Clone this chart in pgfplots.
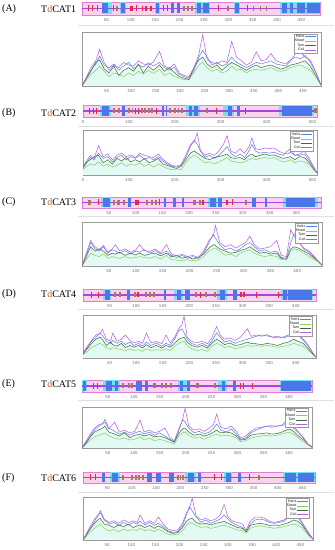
\documentclass[border=0pt]{standalone}
\usepackage{fontspec}
\setmainfont{Liberation Serif}
\newfontfamily\tickfamily{DejaVu Sans}
\usepackage{pgfplots}
\usepackage{pgfplotstable}
\pgfplotsset{compat=1.18}
\definecolor{pinkbg}{HTML}{F9D2EE}
\definecolor{orchidc}{HTML}{E07ED0}
\definecolor{cyanc}{HTML}{6FE3F2}
\definecolor{bluec}{HTML}{4A78E8}
\definecolor{brownc}{HTML}{A67A5B}
\definecolor{redc}{HTML}{E8283C}
\definecolor{centc}{HTML}{A548E0}
\definecolor{helixc}{HTML}{4F7FE0}
\definecolor{sheetc}{HTML}{8FCB5A}
\definecolor{turnc}{HTML}{3D6B35}
\definecolor{coilc}{HTML}{B65AE6}
\definecolor{fillc}{HTML}{E2F9F4}
\definecolor{framegray}{HTML}{9A9A9A}
\definecolor{tickgray}{HTML}{707070}
\definecolor{tdcol}{HTML}{C0602A}
\newcommand{\tickfont}{\tickfamily\fontsize{4}{4.5}\selectfont}

\pgfplotstableread{
x h s t c
0 0.00 0.00 0.00 0.00
8 0.12 0.10 0.14 0.15
18 0.30 0.22 0.28 0.35
28 0.42 0.30 0.45 0.48
36 0.57 0.38 0.50 0.70
45 0.40 0.28 0.33 0.45
55 0.35 0.18 0.25 0.30
65 0.42 0.25 0.38 0.40
75 0.30 0.22 0.20 0.35
85 0.38 0.18 0.30 0.45
95 0.45 0.25 0.35 0.40
105 0.33 0.20 0.28 0.38
115 0.40 0.28 0.42 0.48
125 0.36 0.22 0.25 0.42
135 0.44 0.30 0.38 0.40
145 0.38 0.24 0.30 0.45
158 0.45 0.32 0.40 0.66
168 0.35 0.20 0.28 0.38
178 0.30 0.25 0.35 0.34
188 0.36 0.18 0.26 0.42
198 0.22 0.15 0.18 0.25
208 0.18 0.12 0.15 0.20
218 0.15 0.14 0.12 0.18
228 0.30 0.25 0.35 0.35
238 0.55 0.40 0.50 0.60
246 0.68 0.45 0.55 0.98
255 0.55 0.35 0.42 0.50
265 0.40 0.28 0.35 0.45
275 0.45 0.32 0.40 0.42
285 0.38 0.25 0.30 0.48
295 0.42 0.28 0.38 0.45
305 0.55 0.38 0.45 0.85
315 0.45 0.30 0.40 0.55
325 0.40 0.32 0.35 0.48
335 0.35 0.25 0.30 0.40
345 0.40 0.30 0.36 0.45
355 0.45 0.32 0.40 0.65
365 0.42 0.30 0.35 0.48
375 0.45 0.32 0.38 0.50
385 0.48 0.35 0.40 0.62
395 0.42 0.30 0.36 0.48
405 0.40 0.28 0.32 0.45
415 0.38 0.30 0.35 0.42
425 0.48 0.35 0.40 0.50
435 0.62 0.38 0.42 0.55
445 0.65 0.40 0.45 0.52
455 0.55 0.35 0.48 0.58
465 0.50 0.30 0.38 0.45
475 0.30 0.20 0.22 0.28
487 0.02 0.02 0.02 0.02
}\tabA

\pgfplotstableread{
x h s t c
0 0.15 0.12 0.18 0.20
8 0.28 0.20 0.30 0.32
16 0.40 0.25 0.35 0.45
24 0.35 0.22 0.42 0.38
34 0.50 0.30 0.45 0.67
44 0.38 0.20 0.28 0.42
54 0.42 0.25 0.35 0.48
64 0.30 0.18 0.25 0.35
74 0.40 0.22 0.38 0.45
84 0.45 0.28 0.32 0.50
94 0.35 0.20 0.40 0.42
104 0.42 0.25 0.30 0.46
114 0.38 0.22 0.35 0.40
124 0.45 0.28 0.30 0.50
134 0.36 0.20 0.38 0.45
144 0.40 0.25 0.28 0.42
154 0.35 0.18 0.32 0.40
164 0.42 0.25 0.38 0.48
174 0.32 0.20 0.25 0.36
184 0.25 0.15 0.22 0.28
194 0.20 0.12 0.18 0.22
204 0.18 0.14 0.15 0.20
214 0.22 0.12 0.20 0.24
224 0.40 0.28 0.35 0.45
234 0.65 0.40 0.50 0.70
242 0.80 0.45 0.55 0.75
249 0.70 0.42 0.50 0.96
256 0.55 0.35 0.45 0.55
266 0.40 0.28 0.38 0.45
276 0.45 0.30 0.35 0.50
286 0.38 0.25 0.40 0.45
296 0.45 0.30 0.42 0.55
306 0.55 0.35 0.45 0.70
314 0.65 0.40 0.48 0.90
322 0.50 0.32 0.40 0.55
332 0.42 0.30 0.38 0.50
342 0.48 0.28 0.40 0.60
352 0.40 0.30 0.35 0.50
362 0.55 0.35 0.45 0.65
368 0.70 0.38 0.48 0.85
376 0.55 0.35 0.42 0.60
386 0.50 0.38 0.45 0.58
396 0.52 0.40 0.48 0.62
406 0.50 0.38 0.45 0.60
416 0.52 0.40 0.46 0.62
426 0.48 0.35 0.42 0.55
436 0.45 0.30 0.38 0.50
446 0.55 0.32 0.40 0.48
452 0.60 0.35 0.42 0.52
462 0.45 0.28 0.35 0.45
472 0.48 0.32 0.42 0.45
482 0.55 0.30 0.40 0.48
492 0.40 0.25 0.30 0.35
502 0.20 0.12 0.15 0.18
510 0.05 0.04 0.05 0.05
}\tabB

\pgfplotstableread{
x h s t c
0 0.00 0.00 0.00 0.00
8 0.25 0.15 0.22 0.30
16 0.55 0.30 0.45 0.60
24 0.40 0.25 0.35 0.45
32 0.35 0.22 0.40 0.38
40 0.45 0.28 0.35 0.48
48 0.30 0.18 0.25 0.32
56 0.38 0.22 0.30 0.40
62 0.35 0.20 0.28 0.50
70 0.30 0.18 0.32 0.35
80 0.36 0.22 0.25 0.40
90 0.28 0.18 0.30 0.32
100 0.35 0.20 0.26 0.38
107 0.32 0.22 0.30 0.50
116 0.38 0.20 0.25 0.36
126 0.30 0.18 0.28 0.34
136 0.36 0.22 0.30 0.40
146 0.28 0.16 0.24 0.30
157 0.35 0.25 0.30 0.50
166 0.25 0.15 0.22 0.28
176 0.20 0.14 0.25 0.24
186 0.25 0.12 0.18 0.28
196 0.18 0.15 0.22 0.22
206 0.22 0.12 0.16 0.25
216 0.18 0.14 0.20 0.20
226 0.30 0.22 0.28 0.35
236 0.55 0.35 0.42 0.60
244 0.75 0.40 0.50 0.70
248 0.65 0.42 0.48 0.95
256 0.50 0.35 0.40 0.55
266 0.38 0.25 0.35 0.45
276 0.42 0.28 0.30 0.50
286 0.35 0.22 0.32 0.42
294 0.40 0.30 0.36 0.48
304 0.50 0.35 0.40 0.55
312 0.55 0.38 0.45 0.70
320 0.45 0.30 0.38 0.50
330 0.35 0.25 0.30 0.40
340 0.38 0.22 0.32 0.42
350 0.32 0.25 0.28 0.45
362 0.35 0.22 0.30 0.60
370 0.20 0.15 0.18 0.25
380 0.18 0.14 0.16 0.22
388 0.55 0.35 0.40 0.85
394 0.75 0.40 0.45 0.70
402 0.60 0.38 0.42 0.55
412 0.40 0.30 0.35 0.42
422 0.32 0.22 0.28 0.35
432 0.20 0.15 0.18 0.22
440 0.10 0.08 0.10 0.10
446 0.02 0.02 0.02 0.02
}\tabC

\pgfplotstableread{
x h s t c
0 0.10 0.08 0.10 0.12
8 0.25 0.15 0.22 0.28
16 0.40 0.25 0.35 0.42
24 0.50 0.30 0.45 0.55
32 0.60 0.35 0.50 0.58
36 0.55 0.32 0.45 0.69
44 0.40 0.25 0.30 0.45
52 0.35 0.20 0.38 0.40
56 0.42 0.25 0.32 0.60
64 0.35 0.22 0.28 0.40
72 0.40 0.20 0.35 0.45
80 0.32 0.18 0.25 0.55
88 0.38 0.22 0.30 0.42
96 0.30 0.18 0.26 0.36
104 0.35 0.20 0.30 0.40
112 0.28 0.16 0.24 0.35
119 0.38 0.22 0.32 0.60
128 0.30 0.18 0.25 0.36
138 0.36 0.20 0.30 0.40
148 0.28 0.18 0.24 0.34
156 0.35 0.22 0.30 0.55
164 0.30 0.18 0.26 0.36
172 0.45 0.28 0.35 0.50
180 0.65 0.35 0.45 0.70
186 0.70 0.38 0.48 0.80
190 0.60 0.40 0.50 1.00
196 0.45 0.30 0.38 0.50
204 0.35 0.22 0.30 0.40
214 0.30 0.18 0.26 0.36
224 0.35 0.20 0.30 0.40
234 0.28 0.16 0.24 0.34
242 0.40 0.28 0.35 0.48
251 0.60 0.35 0.45 0.75
258 0.50 0.32 0.40 0.55
266 0.38 0.25 0.32 0.45
276 0.42 0.28 0.36 0.48
286 0.35 0.22 0.30 0.42
296 0.40 0.25 0.32 0.50
309 0.45 0.30 0.38 0.70
316 0.48 0.28 0.35 0.52
326 0.52 0.30 0.34 0.55
336 0.55 0.28 0.32 0.52
346 0.53 0.30 0.35 0.56
356 0.50 0.28 0.33 0.50
366 0.48 0.26 0.30 0.52
376 0.50 0.28 0.35 0.48
386 0.55 0.30 0.38 0.52
396 0.60 0.35 0.45 0.60
404 0.58 0.32 0.40 0.55
414 0.45 0.28 0.35 0.42
424 0.30 0.18 0.22 0.28
432 0.12 0.08 0.10 0.12
438 0.02 0.02 0.02 0.02
}\tabD

\pgfplotstableread{
x h s t c
0 0.00 0.00 0.00 0.00
8 0.15 0.10 0.12 0.18
16 0.30 0.20 0.28 0.35
24 0.45 0.28 0.40 0.50
32 0.55 0.32 0.45 0.58
40 0.60 0.35 0.50 0.62
44 0.72 0.38 0.55 0.65
52 0.50 0.30 0.40 0.48
63 0.42 0.25 0.35 0.65
72 0.35 0.22 0.30 0.40
82 0.40 0.25 0.38 0.45
92 0.32 0.20 0.26 0.38
102 0.38 0.22 0.32 0.42
112 0.42 0.28 0.35 0.70
120 0.35 0.20 0.30 0.40
130 0.40 0.25 0.34 0.45
140 0.32 0.18 0.28 0.38
150 0.38 0.22 0.30 0.42
160 0.30 0.18 0.26 0.50
170 0.22 0.14 0.20 0.26
178 0.15 0.10 0.14 0.18
186 0.40 0.28 0.35 0.45
194 0.72 0.38 0.48 0.70
199 0.65 0.40 0.50 1.00
206 0.50 0.32 0.40 0.55
216 0.38 0.25 0.32 0.45
226 0.42 0.28 0.35 0.48
236 0.35 0.22 0.30 0.42
246 0.40 0.28 0.34 0.50
254 0.50 0.32 0.40 0.60
260 0.60 0.35 0.45 0.85
268 0.45 0.30 0.38 0.52
278 0.40 0.32 0.40 0.48
288 0.48 0.30 0.38 0.55
298 0.35 0.25 0.30 0.42
306 0.22 0.16 0.20 0.25
316 0.25 0.18 0.22 0.30
326 0.38 0.25 0.32 0.42
336 0.45 0.28 0.35 0.50
346 0.50 0.30 0.36 0.52
356 0.55 0.32 0.38 0.55
366 0.56 0.30 0.35 0.52
376 0.55 0.32 0.36 0.55
386 0.58 0.35 0.40 0.56
394 0.68 0.38 0.45 0.60
400 0.76 0.40 0.48 0.62
408 0.55 0.35 0.42 0.50
418 0.40 0.25 0.30 0.38
428 0.25 0.15 0.20 0.24
436 0.10 0.08 0.10 0.10
444 0.02 0.02 0.02 0.02
}\tabE

\pgfplotstableread{
x h s t c
0 0.00 0.00 0.00 0.00
8 0.15 0.10 0.14 0.18
16 0.30 0.20 0.28 0.35
24 0.45 0.28 0.40 0.50
32 0.60 0.35 0.50 0.62
36 0.65 0.38 0.52 0.70
44 0.48 0.28 0.38 0.50
54 0.38 0.22 0.35 0.42
64 0.42 0.25 0.30 0.46
74 0.35 0.20 0.36 0.40
84 0.42 0.26 0.32 0.48
94 0.36 0.22 0.38 0.42
104 0.42 0.25 0.30 0.46
112 0.38 0.22 0.34 0.42
118 0.45 0.28 0.36 0.60
128 0.36 0.22 0.30 0.40
138 0.42 0.25 0.35 0.46
148 0.35 0.20 0.28 0.40
156 0.40 0.26 0.34 0.55
166 0.32 0.20 0.28 0.38
176 0.22 0.14 0.20 0.26
186 0.18 0.12 0.16 0.22
196 0.20 0.14 0.18 0.24
206 0.35 0.22 0.30 0.40
214 0.60 0.35 0.45 0.65
220 0.80 0.42 0.50 0.75
226 0.70 0.40 0.52 1.00
234 0.55 0.35 0.42 0.58
244 0.42 0.30 0.38 0.48
254 0.48 0.32 0.40 0.52
264 0.40 0.28 0.36 0.46
274 0.45 0.30 0.40 0.50
284 0.50 0.34 0.42 0.60
292 0.60 0.36 0.45 0.85
300 0.50 0.32 0.40 0.55
310 0.40 0.28 0.35 0.45
320 0.35 0.24 0.30 0.42
330 0.30 0.22 0.28 0.38
338 0.20 0.16 0.20 0.24
346 0.38 0.28 0.35 0.45
356 0.48 0.32 0.38 0.55
366 0.50 0.34 0.40 0.55
376 0.48 0.32 0.38 0.52
386 0.42 0.30 0.35 0.45
396 0.40 0.28 0.36 0.42
406 0.42 0.30 0.35 0.45
416 0.45 0.32 0.38 0.48
426 0.55 0.35 0.42 0.58
436 0.65 0.38 0.48 0.65
444 0.60 0.36 0.45 0.55
452 0.45 0.30 0.38 0.42
460 0.30 0.20 0.25 0.28
468 0.15 0.10 0.12 0.14
476 0.02 0.02 0.02 0.02
}\tabF

\pgfplotsset{
  barax/.style={scale only axis, anchor=north west, ymin=-1, ymax=1, xmin=0,
    ytick=\empty, axis line style={draw=orchidc, line width=0.5bp},
    axis background/.style={fill=pinkbg}, unbounded coords=jump,
    major tick length=0pt, tick style={draw=none},
    xticklabel style={font=\tickfont, text=tickgray, inner sep=0pt, yshift=-3.5bp},
    /pgf/number format/assume math mode=true},
  plotax/.style={scale only axis, anchor=north west, ymin=0, ymax=1.03, xmin=0,
    ytick=\empty, axis line style={draw=framegray, line width=0.4bp},
    major tick length=1.5bp, tick style={draw=framegray, line width=0.3bp},
    xticklabel style={font=\tickfont, text=tickgray, inner sep=0pt, yshift=-3bp},
    /pgf/number format/assume math mode=true,
    legend plot pos=right, legend cell align=right,
    legend style={at={(0.985,0.97)}, anchor=north east,
      font=\tickfamily\fontsize{3.3}{3.6}\selectfont, draw=framegray,
      line width=0.3bp, fill=white, inner sep=0.6bp, row sep=-0.6bp,
      nodes={inner sep=0.5bp}},
    legend image code/.code={\draw[#1, line width=0.8bp] (0bp,0bp) -- (11bp,0bp);}},
  hl/.style={draw=helixc, line width=0.5bp},
  sl/.style={draw=sheetc, line width=0.5bp},
  tl/.style={draw=turnc, line width=0.5bp},
  cl/.style={draw=coilc, line width=0.5bp},
}
\newcommand{\fourlines}[1]{%
  \addplot[fill=fillc, draw=none, forget plot] table[x=x, y=t]{#1} \closedcycle;
  \addplot[hl] table[x=x, y=h]{#1};
  \addplot[sl] table[x=x, y=s]{#1};
  \addplot[tl] table[x=x, y=t]{#1};
  \addplot[cl] table[x=x, y=c]{#1};
  \legend{Helix, Sheet, Turn, Coil}}
\newcommand{\panellabel}[3]{%
  \node[anchor=west, inner sep=0pt, font=\fontsize{10}{12}\selectfont] at (2bp,#1bp) {(#2)};
  \node[anchor=west, inner sep=0pt, font=\fontsize{10}{12}\selectfont] at (41bp,#1bp) {T\textcolor{tdcol}{d}CAT#3};}

\begin{document}
\begin{tikzpicture}
\useasboundingbox (0bp,0bp) rectangle (335bp,550bp);
\fill[white] (0bp,0bp) rectangle (335bp,550bp);

% separators
\foreach \yy in {525,424,334,241,150,58} {\draw[black!12, line width=0.8bp] (78bp,\yy bp) -- (334bp,\yy bp);}

\panellabel{541}{A}{1}
\panellabel{437}{B}{2}
\panellabel{348}{C}{3}
\panellabel{256}{D}{4}
\panellabel{166}{E}{5}
\panellabel{72}{F}{6}

% ---------------- A ----------------
\begin{axis}[barax, at={(82bp,548bp)}, width=238bp, height=13bp, xmax=488, xtick={50,100,...,450}]
\addplot[cyanc, line width=12bp] coordinates {(42,0)(62,0)(62,nan)(78,0)(90,0)(90,nan)(149,0)(159,0)(159,nan)(232,0)(262,0)(262,nan)(312,0)(323,0)(323,nan)(405,0)(488,0)};
\addplot[centc, line width=1.5bp] coordinates {(0,0)(488,0)};
\addplot[bluec, line width=10bp] coordinates {(42,0)(53,0)(53,nan)(80,0)(88,0)(88,nan)(151,0)(158,0)(158,nan)(182,0)(188,0)(188,nan)(195,0)(201,0)(201,nan)(236,0)(245,0)(245,nan)(249,0)(260,0)(260,nan)(314,0)(321,0)(321,nan)(410,0)(420,0)(420,nan)(426,0)(433,0)(433,nan)(440,0)(458,0)(458,nan)(461,0)(487,0)};
\addplot[brownc, line width=5bp] coordinates {(69,0)(73,0)(73,nan)(207,0)(211,0)(211,nan)(215,0)(219,0)(219,nan)(223,0)(227,0)(227,nan)(298,0)(302,0)(302,nan)(350,0)(353,0)(353,nan)(364,0)(367,0)(367,nan)(377,0)(380,0)};
\addplot[redc, line width=5bp] coordinates {(98,0)(105,0)(105,nan)(122,0)(126,0)(126,nan)(130,0)(134,0)(134,nan)(139,0)(143,0)};
\addplot[only marks, mark=|, mark size=3bp, redc, mark options={line width=0.7bp}] coordinates {(13,0)(22,0)(32,0)(64,0)(112,0)(166,0)(175,0)(280,0)(340,0)};
\end{axis}
\begin{axis}[plotax, at={(82bp,518bp)}, width=239bp, height=54bp, xmax=487, xtick={50,100,...,450}]
\fourlines{\tabA}
\end{axis}

% ---------------- B ----------------
\begin{axis}[barax, at={(83bp,445bp)}, width=234bp, height=12bp, xmax=510, xtick={0,100,...,500}]
\addplot[cyanc, line width=11bp] coordinates {(38,0)(60,0)(60,nan)(225,0)(256,0)(256,nan)(305,0)(330,0)(330,nan)(428,0)(503,0)};
\addplot[centc, line width=1.5bp] coordinates {(0,0)(510,0)};
\addplot[bluec, line width=9.5bp] coordinates {(42,0)(56,0)(56,nan)(85,0)(92,0)(92,nan)(172,0)(176,0)(176,nan)(180,0)(184,0)(184,nan)(230,0)(237,0)(237,nan)(242,0)(250,0)(250,nan)(316,0)(324,0)(324,nan)(335,0)(342,0)(342,nan)(433,0)(500,0)};
\addplot[brownc, line width=5bp] coordinates {(65,0)(69,0)(69,nan)(76,0)(80,0)(80,nan)(98,0)(102,0)(102,nan)(106,0)(110,0)(110,nan)(127,0)(131,0)(131,nan)(134,0)(138,0)(138,nan)(141,0)(145,0)(145,nan)(149,0)(153,0)(153,nan)(188,0)(192,0)(192,nan)(199,0)(203,0)(203,nan)(206,0)(210,0)(210,nan)(213,0)(217,0)(217,nan)(268,0)(272,0)(272,nan)(504,0)(509,0)};
\addplot[only marks, mark=|, mark size=3bp, redc, mark options={line width=0.7bp}] coordinates {(13,0)(22,0)(30,0)(114,0)(120,0)(160,0)(290,0)(354,0)};
\end{axis}
\begin{axis}[plotax, at={(83bp,420bp)}, width=234bp, height=45bp, xmax=510, xtick={0,100,...,500}]
\fourlines{\tabB}
\end{axis}

% ---------------- C ----------------
\begin{axis}[barax, at={(82bp,353bp)}, width=239bp, height=11bp, xmax=446, xtick={50,100,...,400}]
\addplot[cyanc, line width=10bp] coordinates {(36,0)(55,0)(55,nan)(236,0)(252,0)(252,nan)(375,0)(440,0)};
\addplot[centc, line width=1.5bp] coordinates {(0,0)(446,0)};
\addplot[bluec, line width=9bp] coordinates {(39,0)(52,0)(52,nan)(86,0)(92,0)(92,nan)(153,0)(156,0)(156,nan)(170,0)(176,0)(176,nan)(187,0)(190,0)(190,nan)(238,0)(250,0)(250,nan)(253,0)(262,0)(262,nan)(318,0)(324,0)(324,nan)(342,0)(345,0)(345,nan)(380,0)(434,0)};
\addplot[brownc, line width=5bp] coordinates {(12,0)(16,0)(16,nan)(58,0)(62,0)(62,nan)(66,0)(70,0)(70,nan)(76,0)(80,0)(80,nan)(120,0)(124,0)(124,nan)(128,0)(132,0)(132,nan)(136,0)(140,0)(140,nan)(208,0)(212,0)(212,nan)(218,0)(222,0)(222,nan)(304,0)(308,0)};
\addplot[redc, line width=5bp] coordinates {(98,0)(106,0)(106,nan)(224,0)(228,0)(228,nan)(268,0)(272,0)};
\addplot[only marks, mark=|, mark size=3bp, redc, mark options={line width=0.7bp}] coordinates {(30,0)(145,0)(280,0)};
\end{axis}
\begin{axis}[plotax, at={(82bp,328bp)}, width=240bp, height=44bp, xmax=446, xtick={50,100,...,400}]
\fourlines{\tabC}
\end{axis}

% ---------------- D ----------------
\begin{axis}[barax, at={(83bp,261bp)}, width=233bp, height=12bp, xmax=438, xtick={50,100,...,400}]
\addplot[cyanc, line width=11bp] coordinates {(38,0)(53,0)(53,nan)(172,0)(188,0)(188,nan)(252,0)(270,0)(270,nan)(372,0)(432,0)};
\addplot[centc, line width=1.5bp] coordinates {(0,0)(438,0)};
\addplot[bluec, line width=9.5bp] coordinates {(41,0)(50,0)(50,nan)(82,0)(88,0)(88,nan)(153,0)(156,0)(156,nan)(176,0)(185,0)(185,nan)(191,0)(201,0)(201,nan)(257,0)(267,0)(267,nan)(282,0)(289,0)(289,nan)(376,0)(383,0)(383,nan)(386,0)(430,0)};
\addplot[brownc, line width=5bp] coordinates {(58,0)(62,0)(62,nan)(68,0)(72,0)(72,nan)(95,0)(99,0)(99,nan)(117,0)(121,0)(121,nan)(124,0)(128,0)(128,nan)(132,0)(136,0)(136,nan)(210,0)(214,0)(214,nan)(230,0)(234,0)(234,nan)(246,0)(250,0)};
\addplot[redc, line width=5bp] coordinates {(101,0)(105,0)(105,nan)(296,0)(299,0)(299,nan)(301,0)(304,0)};
\addplot[only marks, mark=|, mark size=3bp, redc, mark options={line width=0.7bp}] coordinates {(16,0)(28,0)(220,0)(326,0)(367,0)};
\end{axis}
\begin{axis}[plotax, at={(83bp,235bp)}, width=233bp, height=43bp, xmax=438, xtick={50,100,...,400}]
\fourlines{\tabD}
\end{axis}

% ---------------- E ----------------
\begin{axis}[barax, at={(82bp,170bp)}, width=230bp, height=12bp, xmax=444, xtick={50,100,...,400}]
\addplot[cyanc, line width=11bp] coordinates {(0,0)(10,0)(10,nan)(41,0)(73,0)(73,nan)(185,0)(205,0)(205,nan)(262,0)(280,0)(280,nan)(383,0)(444,0)};
\addplot[centc, line width=1.5bp] coordinates {(0,0)(444,0)};
\addplot[bluec, line width=9.5bp] coordinates {(1,0)(8,0)(8,nan)(47,0)(57,0)(57,nan)(63,0)(70,0)(70,nan)(105,0)(115,0)(115,nan)(121,0)(128,0)(128,nan)(189,0)(195,0)(195,nan)(202,0)(208,0)(208,nan)(270,0)(276,0)(276,nan)(292,0)(298,0)(298,nan)(384,0)(443,0)};
\addplot[brownc, line width=5bp] coordinates {(78,0)(82,0)(82,nan)(88,0)(92,0)(92,nan)(94,0)(98,0)(98,nan)(138,0)(143,0)(143,nan)(153,0)(157,0)(157,nan)(161,0)(165,0)(165,nan)(170,0)(174,0)(174,nan)(221,0)(225,0)(225,nan)(254,0)(258,0)};
\addplot[only marks, mark=|, mark size=3bp, redc, mark options={line width=0.7bp}] coordinates {(21,0)(30,0)(305,0)(311,0)(329,0)};
\end{axis}
\begin{axis}[plotax, at={(82bp,143bp)}, width=230bp, height=41bp, xmax=444, xtick={50,100,...,400}]
\fourlines{\tabE}
\end{axis}

% ---------------- F ----------------
\begin{axis}[barax, at={(83bp,78bp)}, width=232bp, height=11bp, xmax=476, xtick={50,100,...,450}]
\addplot[cyanc, line width=10bp] coordinates {(55,0)(75,0)(75,nan)(210,0)(232,0)(232,nan)(290,0)(306,0)(306,nan)(410,0)(476,0)};
\addplot[centc, line width=1.5bp] coordinates {(0,0)(476,0)};
\addplot[bluec, line width=9bp] coordinates {(39,0)(46,0)(46,nan)(60,0)(72,0)(72,nan)(132,0)(142,0)(142,nan)(149,0)(160,0)(160,nan)(177,0)(187,0)(187,nan)(215,0)(228,0)(228,nan)(235,0)(242,0)(242,nan)(294,0)(304,0)(304,nan)(318,0)(325,0)(325,nan)(414,0)(436,0)(436,nan)(442,0)(473,0)};
\addplot[brownc, line width=5bp] coordinates {(80,0)(84,0)(84,nan)(99,0)(103,0)(103,nan)(106,0)(110,0)(110,nan)(113,0)(117,0)(117,nan)(121,0)(125,0)(125,nan)(192,0)(196,0)(196,nan)(198,0)(202,0)(202,nan)(204,0)(207,0)(207,nan)(360,0)(364,0)};
\addplot[only marks, mark=|, mark size=3bp, redc, mark options={line width=0.7bp}] coordinates {(15,0)(25,0)(270,0)(283,0)(342,0)};
\end{axis}
\begin{axis}[plotax, at={(83bp,53bp)}, width=230bp, height=43bp, xmax=476, xtick={50,100,...,450}]
\fourlines{\tabF}
\end{axis}
\end{tikzpicture}
\end{document}
